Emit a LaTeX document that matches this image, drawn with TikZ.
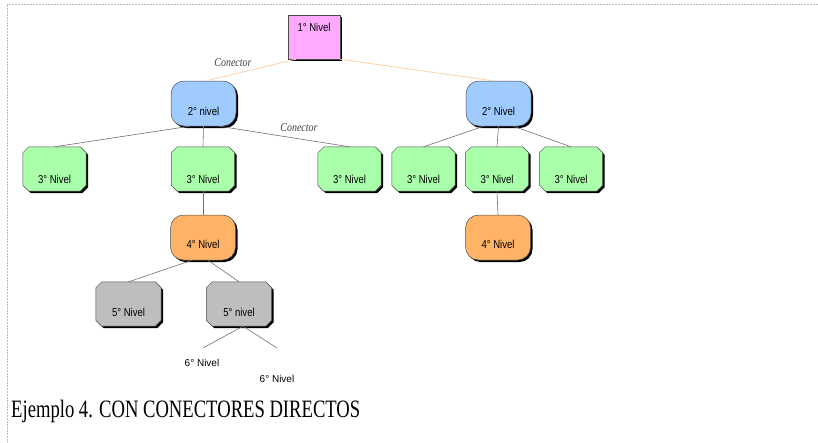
\documentclass[tikz,border=0pt]{standalone}
\usepackage{fontspec}
\setmainfont{Liberation Serif}
\newfontfamily\boxfont{Liberation Sans}
\usetikzlibrary{shadows,calc,backgrounds}
\definecolor{pinkfill}{HTML}{FFAAFF}
\definecolor{bluefill}{HTML}{9FCBFF}
\definecolor{greenfill}{HTML}{AAFFAA}
\definecolor{orangefill}{HTML}{FFB366}
\definecolor{grayfill}{HTML}{BEBEBE}
\definecolor{peach}{HTML}{FFD2A8}
\definecolor{linegray}{HTML}{707070}
\definecolor{dotgray}{HTML}{BBBBBB}
\newcommand{\bx}[1]{\scalebox{0.83}[1]{#1}}
\newcommand{\octo}[2]{%
 \fill[black] ($(#1.north west)+(8,2)$) -- ($(#1.north east)+(-4,2)$) -- ($(#1.north east)+(2,8)$) -- ($(#1.south east)+(2,-4)$) -- ($(#1.south east)+(-4,2)$) -- ($(#1.south west)+(8,2)$) -- ($(#1.south west)+(2,-4)$) -- ($(#1.north west)+(2,8)$) -- cycle;
 \filldraw[fill=#2, draw=black!70, line width=0.5pt] ($(#1.north west)+(6,0)$) -- ($(#1.north east)+(-6,0)$) -- ($(#1.north east)+(0,6)$) -- ($(#1.south east)+(0,-6)$) -- ($(#1.south east)+(-6,0)$) -- ($(#1.south west)+(6,0)$) -- ($(#1.south west)+(0,-6)$) -- ($(#1.north west)+(0,6)$) -- cycle;}
\tikzset{
  x=1pt,y=-1pt,
  boxtext/.style={inner sep=0pt, font=\boxfont\fontsize{11.5}{11.5}\selectfont},
  basebox/.style={boxtext, draw=black!70, line width=0.5pt,
    drop shadow={shadow xshift=2pt, shadow yshift=-2pt, fill=black, opacity=1}},
  lvlone/.style={basebox, rectangle, fill=pinkfill, minimum width=52pt, text height=16pt, text depth=28pt},
  lvltwo/.style={basebox, rectangle, rounded corners=13pt, fill=bluefill, minimum width=65pt, text height=34pt, text depth=11pt},
  lvlthree/.style={boxtext, rectangle, minimum width=63pt, text height=36pt, text depth=8pt},
  lvlfour/.style={basebox, rectangle, rounded corners=13pt, fill=orangefill, minimum width=65pt, text height=33pt, text depth=12pt},
  lvlfive/.style={boxtext, rectangle, minimum width=65pt, text height=34pt, text depth=10pt},
  plainlbl/.style={inner sep=0pt, font=\boxfont\fontsize{10}{10}\selectfont},
  conlbl/.style={inner sep=0pt, font=\fontsize{12}{12}\selectfont\itshape, text=black!75},
  topline/.style={draw=peach, line width=0.8pt},
  link/.style={draw=linegray, line width=0.6pt},
}
\begin{document}
\begin{tikzpicture}
\useasboundingbox (0,0) rectangle (818,442);
\draw[dotgray, densely dotted, line width=0.5pt] (7,442) -- (7,4) -- (818,4);

\node[lvlone] (n1) at (314,37) {\bx{1° Nivel}};
\node[lvltwo] (n2a) at (203.5,103.5) {\bx{2° nivel}};
\node[lvltwo] (n2b) at (498.5,103.5) {\bx{2° Nivel}};

\node[lvlthree] (n3a) at (54.5,169) {\bx{3° Nivel}};
\node[lvlthree] (n3b) at (203,169) {\bx{3° Nivel}};
\node[lvlthree] (n3c) at (349.5,169) {\bx{3° Nivel}};
\node[lvlthree] (n3d) at (423.5,169) {\bx{3° Nivel}};
\node[lvlthree] (n3e) at (497,169) {\bx{3° Nivel}};
\node[lvlthree] (n3f) at (571,169) {\bx{3° Nivel}};

\node[lvlfour] (n4a) at (203,237.5) {\bx{4° Nivel}};
\node[lvlfour] (n4b) at (498,237.5) {\bx{4° Nivel}};

\node[lvlfive] (n5a) at (128.5,304) {\bx{5° Nivel}};
\node[lvlfive] (n5b) at (239,304) {\bx{5° nivel}};

\begin{scope}[on background layer]
\octo{n3a}{greenfill}
\octo{n3b}{greenfill}
\octo{n3c}{greenfill}
\octo{n3d}{greenfill}
\octo{n3e}{greenfill}
\octo{n3f}{greenfill}
\octo{n5a}{grayfill}
\octo{n5b}{grayfill}
\end{scope}

\node[plainlbl] (n6a) at (202,363) {6° Nivel};
\node[plainlbl] (n6b) at (277,379) {6° Nivel};
\coordinate (e6a) at (203,348);
\coordinate (e6b) at (277,348);

% top connectors
\draw[topline] ($(n1.south west)+(8,0)$) -- ($(n2a.north)+(3,0)$);
\draw[topline] (n1.south east) -- ($(n2b.north)+(-6,0)$);
\node[conlbl] (c1) at (233,63) {\scalebox{0.83}[1]{Conector}};

% level 2 -> 3
\draw[link] ($(n2a.south)+(-14,0)$) -- (n3a.north);
\draw[link] (n2a.south) -- (n3b.north);
\draw[link] ($(n2a.south)+(16,0)$) -- (n3c.north);
\node[conlbl] (c2) at (299,128) {\scalebox{0.83}[1]{Conector}};
\draw[link] ($(n2b.south)+(-15,0)$) -- (n3d.north);
\draw[link] (n2b.south) -- (n3e.north);
\draw[link] ($(n2b.south)+(15,0)$) -- (n3f.north);

% level 3 -> 4
\draw[link] (n3b.south) -- (n4a.north);
\draw[link] (n3e.south) -- (n4b.north);

% level 4 -> 5
\draw[link] ($(n4a.south)+(-11,0)$) -- (n5a.north);
\draw[link] ($(n4a.south)+(5,0)$) -- (n5b.north);

% level 5 -> 6
\draw[link] ($(n5b.south)+(4,0)$) -- (e6a);
\draw[link] ($(n5b.south)+(4,0)$) -- (e6b);

\node[anchor=base west, inner sep=0pt, font=\fontsize{25}{25}\selectfont] (cap) at (11,417) {\scalebox{0.745}[1]{Ejemplo 4. CON CONECTORES DIRECTOS}};
\end{tikzpicture}
\end{document}
